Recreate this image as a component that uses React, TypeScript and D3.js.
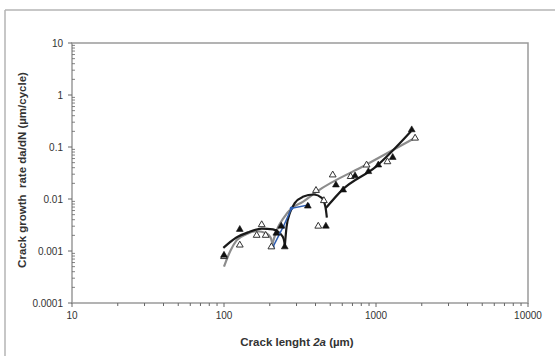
import React from 'react';
import * as d3 from 'd3';

// measured points (crack length in µm, growth rate in µm/cycle)
const filledX = [100, 127, 221, 238, 251, 356, 468, 545, 608, 728, 891, 1035, 1288, 1718];
const filledY = [0.00083, 0.0026, 0.0022, 0.003, 0.0012, 0.0073, 0.003, 0.0186, 0.0149, 0.0278, 0.0336, 0.045, 0.063, 0.214];

const openX = [100, 127, 164, 177, 188, 205, 403, 417, 454, 519, 681, 867, 1189, 1808];
const openY = [0.00078, 0.0013, 0.002, 0.0032, 0.002, 0.0012, 0.0146, 0.003, 0.0093, 0.029, 0.027, 0.045, 0.052, 0.148];

const blueX = [210, 245, 278, 358];
const blueY = [0.0012, 0.0029, 0.0066, 0.0077];

// trend lines
const blackArc1X = [99, 120, 145, 177, 210, 233, 247, 252];
const blackArc1Y = [0.00115, 0.0018, 0.0023, 0.0027, 0.0026, 0.0022, 0.0017, 0.0012];
const blackArc2X = [251, 258, 272, 292, 330, 390, 440, 465, 475];
const blackArc2Y = [0.0012, 0.0029, 0.0055, 0.0083, 0.011, 0.0122, 0.0105, 0.007, 0.0044];
const blackLineX = [468, 600, 1000, 1700];
const blackLineY = [0.0067, 0.015, 0.042, 0.2];
const grayArcX = [100, 110, 121, 140, 164, 190, 203, 210];
const grayArcY = [0.0005, 0.001, 0.0016, 0.0021, 0.0024, 0.0022, 0.0018, 0.0012];
const grayLineX = [205, 227, 245, 278, 332, 406, 866, 1850];
const grayLineY = [0.0012, 0.0029, 0.0042, 0.0066, 0.0089, 0.0138, 0.046, 0.155];

const xTicks = [10, 100, 1000, 10000];
const xTickLabels = ['10', '100', '1000', '10000'];
const yTicks = [10, 1, 0.1, 0.01, 0.001, 0.0001];
const yTickLabels = ['10', '1', '0.1', '0.01', '0.001', '0.0001'];

const W = 555;
const H = 356;
const plot = { left: 72, right: 528, top: 43, bottom: 303 };

const zip = (xs: number[], ys: number[]) => xs.map((x, i) => [x, ys[i]] as [number, number]);

export default function App() {
  const x = d3.scaleLog().domain([10, 10000]).range([plot.left, plot.right]);
  const y = d3.scaleLog().domain([0.0001, 10]).range([plot.bottom, plot.top]);

  const line = d3.line<[number, number]>()
    .x(d => x(d[0]))
    .y(d => y(d[1]))
    .curve(d3.curveMonotoneX);

  const tri = d3.symbol(d3.symbolTriangle, 20)() || '';

  const xMinor: number[] = [];
  const yMinor: number[] = [];
  for (let e = 1; e < 4; e++) for (let k = 2; k < 10; k++) xMinor.push(k * Math.pow(10, e));
  for (let e = -4; e < 1; e++) for (let k = 2; k < 10; k++) yMinor.push(k * Math.pow(10, e));

  const axisColor = '#9a9a9a';
  const font = '"Liberation Sans", Arial, sans-serif';

  return (
    <div style={{ position: 'absolute', left: 0, top: 0 }}>
      <svg width={W} height={H} style={{ display: 'block', background: '#fff' }}>
        {/* outer frame */}
        <line x1={5} y1={10} x2={W} y2={10} stroke="#b4b4b4" strokeWidth={1.5} />
        <line x1={5} y1={10} x2={5} y2={H} stroke="#b4b4b4" strokeWidth={1.5} />

        {/* plot border */}
        <rect x={plot.left} y={plot.top} width={plot.right - plot.left} height={plot.bottom - plot.top}
          fill="none" stroke={axisColor} strokeWidth={1.5} />

        {/* ticks */}
        {xMinor.map(v => (
          <line key={'xm' + v} x1={x(v)} x2={x(v)} y1={plot.bottom} y2={plot.bottom + 3} stroke="#666" strokeWidth={1} />
        ))}
        {xTicks.map(v => (
          <line key={'xM' + v} x1={x(v)} x2={x(v)} y1={plot.bottom} y2={plot.bottom + 4} stroke="#666" strokeWidth={1} />
        ))}
        {yMinor.map(v => (
          <line key={'ym' + v} x1={plot.left} x2={plot.left + 3} y1={y(v)} y2={y(v)} stroke="#666" strokeWidth={0.8} />
        ))}
        {yTicks.map(v => (
          <line key={'yM' + v} x1={plot.left - 4} x2={plot.left} y1={y(v)} y2={y(v)} stroke="#666" strokeWidth={1} />
        ))}

        {/* tick labels */}
        {xTicks.map((v, i) => (
          <text key={'xl' + v} x={x(v)} y={plot.bottom + 16} textAnchor="middle" fontFamily={font} fontSize={10} fill="#333">
            {xTickLabels[i]}
          </text>
        ))}
        {yTicks.map((v, i) => (
          <text key={'yl' + v} x={plot.left - 9} y={y(v) + 3.5} textAnchor="end" fontFamily={font} fontSize={10} fill="#333">
            {yTickLabels[i]}
          </text>
        ))}

        {/* axis titles */}
        <text x={297} y={346} textAnchor="middle" fontFamily={font} fontSize={11.5} fontWeight="bold" fill="#333">
          Crack lenght <tspan fontStyle="italic">2a</tspan> (µm)
        </text>
        <text transform="translate(26,170) rotate(-90)" textAnchor="middle" fontFamily={font} fontSize={11.5}
          fontWeight="bold" fill="#333" style={{ whiteSpace: 'pre' }}>
          {'Crack growth  rate da/dN (µm/cycle)'}
        </text>

        {/* trend lines */}
        <path d={line(zip(grayArcX, grayArcY)) || ''} fill="none" stroke="#8c8c8c" strokeWidth={2.2} />
        <path d={line(zip(grayLineX, grayLineY)) || ''} fill="none" stroke="#8c8c8c" strokeWidth={2.2} />
        <path d={line(zip(blackArc1X, blackArc1Y)) || ''} fill="none" stroke="#1a1a1a" strokeWidth={2.2} />
        <path d={line(zip(blackArc2X, blackArc2Y)) || ''} fill="none" stroke="#1a1a1a" strokeWidth={2.2} />
        <path d={line(zip(blackLineX, blackLineY)) || ''} fill="none" stroke="#1a1a1a" strokeWidth={2.2} />
        <path d={d3.line<[number, number]>().x(d => x(d[0])).y(d => y(d[1]))(zip(blueX, blueY)) || ''}
          fill="none" stroke="#2f5fb3" strokeWidth={1.5} />
        {blueX.map((v, i) => (
          <circle key={'b' + i} cx={x(v)} cy={y(blueY[i])} r={1.8} fill="#2f5fb3" />
        ))}

        {/* markers */}
        {openX.map((v, i) => (
          <path key={'o' + i} d={tri} transform={`translate(${x(v)},${y(openY[i])})`}
            fill="#fff" stroke="#333" strokeWidth={1} />
        ))}
        {filledX.map((v, i) => (
          <path key={'f' + i} d={tri} transform={`translate(${x(v)},${y(filledY[i])})`}
            fill="#111" stroke="#111" strokeWidth={0.6} />
        ))}
      </svg>
    </div>
  );
}
